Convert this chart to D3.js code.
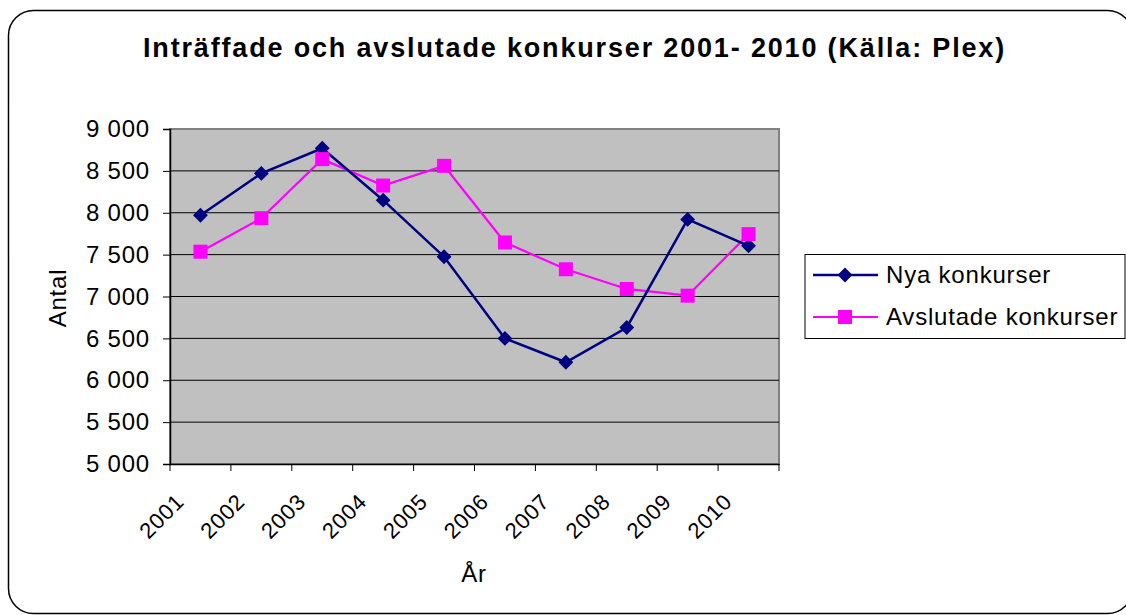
<!DOCTYPE html>
<html>
<head>
<meta charset="utf-8">
<script src="https://cdn.jsdelivr.net/npm/d3@7"></script>
<style>
  body { margin: 0; background: #fff; }
  svg text { font-family: "Liberation Sans", Arial, sans-serif; fill: #000; letter-spacing: 0.8px; }
</style>
</head>
<body>
<svg id="chart" width="1126" height="615"></svg>
<script>
// data
var years = ["2001", "2002", "2003", "2004", "2005", "2006", "2007", "2008", "2009", "2010"];
var nya = [7970, 8470, 8770, 8150, 7475, 6500, 6215, 6630, 7920, 7605];
var avslutade = [7535, 7935, 8640, 8325, 8560, 7645, 7325, 7090, 7010, 7745];
var yTicks = [5000, 5500, 6000, 6500, 7000, 7500, 8000, 8500, 9000];
var seriesNames = ["Nya konkurser", "Avslutade konkurser"];

var svg = d3.select("#chart");

// outer rounded frame
svg.append("rect")
    .attr("x", 8.5).attr("y", 10.5)
    .attr("width", 1124).attr("height", 603)
    .attr("rx", 25).attr("ry", 25)
    .attr("fill", "#fff").attr("stroke", "#000").attr("stroke-width", 1.5);

// title
svg.append("text")
    .attr("x", 574).attr("y", 57)
    .attr("text-anchor", "middle")
    .style("font-size", "27px").style("font-weight", "bold")
    .attr("textLength", 862).attr("lengthAdjust", "spacing")
    .text("Inträffade och avslutade konkurser 2001- 2010 (Källa: Plex)");

var plot = { left: 170, right: 779, top: 129, bottom: 464 };

var x = d3.scaleBand().domain(years).range([plot.left, plot.right]);
var y = d3.scaleLinear().domain([5000, 9000]).range([plot.bottom, plot.top]);

// plot background
svg.append("rect")
    .attr("x", plot.left).attr("y", plot.top)
    .attr("width", plot.right - plot.left).attr("height", plot.bottom - plot.top)
    .attr("fill", "#c0c0c0").attr("stroke", "#808080").attr("stroke-width", 2);

// gridlines
svg.append("g").selectAll("line")
    .data(yTicks.filter(function(d) { return d > 5000 && d < 9000; }))
    .enter().append("line")
    .attr("x1", plot.left).attr("x2", plot.right)
    .attr("y1", function(d) { return y(d); }).attr("y2", function(d) { return y(d); })
    .attr("stroke", "#000").attr("stroke-width", 1);

// y axis
var fmt = function(d) { return d3.format(",")(d).replace(",", " "); };
var yAxis = svg.append("g")
    .attr("transform", "translate(" + plot.left + ",0)")
    .call(d3.axisLeft(y).tickValues(yTicks).tickSize(7).tickPadding(13).tickFormat(fmt));
yAxis.select(".domain").attr("stroke", "#000").attr("stroke-width", 1.5);
yAxis.selectAll(".tick line").attr("stroke", "#000");
yAxis.selectAll(".tick text")
    .style("font-size", "24px").attr("fill", "#000")
    .attr("font-family", "Liberation Sans, Arial, sans-serif");

// x axis
var xAxis = svg.append("g")
    .attr("transform", "translate(0," + plot.bottom + ")")
    .call(d3.axisBottom(x).tickSize(0).tickFormat(""));
xAxis.select(".domain").attr("stroke", "#000").attr("stroke-width", 1.5);
// ticks at category boundaries
svg.append("g").selectAll("line")
    .data(years.concat(["end"]))
    .enter().append("line")
    .attr("x1", function(d, i) { return plot.left + i * x.bandwidth(); })
    .attr("x2", function(d, i) { return plot.left + i * x.bandwidth(); })
    .attr("y1", plot.bottom).attr("y2", plot.bottom + 7)
    .attr("stroke", "#000");
svg.append("g").selectAll("text")
    .data(years)
    .enter().append("text")
    .attr("text-anchor", "end")
    .attr("transform", function(d) {
        return "translate(" + (x(d) + x.bandwidth() / 2 - 15) + "," + (plot.bottom + 39) + ") rotate(-45)";
    })
    .style("font-size", "22px")
    .text(function(d) { return d; });

// axis titles
svg.append("text")
    .attr("x", 474).attr("y", 582)
    .attr("text-anchor", "middle")
    .style("font-size", "24px")
    .text("År");
svg.append("text")
    .attr("transform", "translate(66,298) rotate(-90)")
    .attr("text-anchor", "middle")
    .style("font-size", "24px")
    .text("Antal");

// lines
var cx = function(d, i) { return x(years[i]) + x.bandwidth() / 2; };
var line = d3.line().x(cx).y(function(d) { return y(d); });

svg.append("path").datum(avslutade)
    .attr("d", line).attr("fill", "none")
    .attr("stroke", "#ff00ff").attr("stroke-width", 2.2);
svg.append("path").datum(nya)
    .attr("d", line).attr("fill", "none")
    .attr("stroke", "#000080").attr("stroke-width", 2.5);

var diamond = d3.symbol().type(d3.symbolSquare).size(110);
svg.append("g").selectAll("path")
    .data(nya).enter().append("path")
    .attr("d", diamond)
    .attr("transform", function(d, i) { return "translate(" + cx(d, i) + "," + y(d) + ") rotate(45)"; })
    .attr("fill", "#000080");

svg.append("g").selectAll("rect")
    .data(avslutade).enter().append("rect")
    .attr("x", function(d, i) { return cx(d, i) - 7; })
    .attr("y", function(d) { return y(d) - 7; })
    .attr("width", 14).attr("height", 14)
    .attr("fill", "#ff00ff");

// legend
var legend = svg.append("g");
legend.append("rect")
    .attr("x", 805).attr("y", 254.5)
    .attr("width", 320).attr("height", 84)
    .attr("fill", "#fff").attr("stroke", "#000").attr("stroke-width", 1);
var colors = ["#000080", "#ff00ff"];
seriesNames.forEach(function(name, i) {
    var ly = 275 + i * 42;
    legend.append("line")
        .attr("x1", 813).attr("x2", 878).attr("y1", ly).attr("y2", ly)
        .attr("stroke", colors[i]).attr("stroke-width", i === 0 ? 2.5 : 2.2);
    if (i === 0) {
        legend.append("path")
            .attr("d", diamond)
            .attr("transform", "translate(845," + ly + ") rotate(45)")
            .attr("fill", colors[i]);
    } else {
        legend.append("rect")
            .attr("x", 838).attr("y", ly - 7).attr("width", 14).attr("height", 14)
            .attr("fill", colors[i]);
    }
    legend.append("text")
        .attr("x", 886).attr("y", ly + 8)
        .style("font-size", "24px")
        .text(name);
});
</script>
</body>
</html>
